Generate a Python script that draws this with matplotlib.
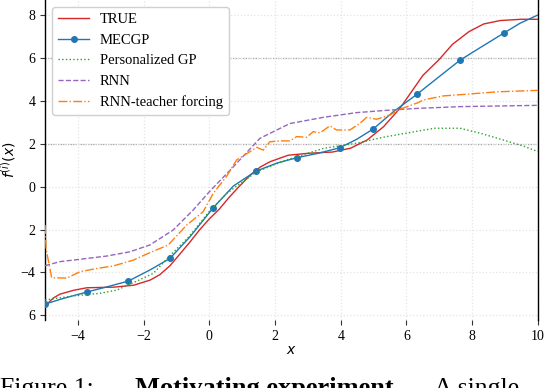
import matplotlib.pyplot as plt

# values
true_x = [-5, -4.75, -4.55, -4.14, -3.73, -2.9, -2.3, -1.8, -1.5, -1.2, -0.9, -0.6, -0.3, 0.0, 0.3, 0.6,
          0.9, 1.25, 1.55, 1.85, 2.4, 3.0, 3.75, 4.3, 4.8, 5.3, 5.8, 6.1, 6.5, 7.0, 7.4, 7.9, 8.35, 8.85, 9.5, 10]
true_y = [-5.57, -5.2, -5.02, -4.84, -4.72, -4.69, -4.6, -4.36, -4.1, -3.69, -3.15, -2.6, -2.02, -1.5, -1.05, -0.5,
          0.0, 0.55, 0.92, 1.17, 1.47, 1.56, 1.62, 1.8, 2.18, 2.8, 3.66, 4.32, 5.2, 5.95, 6.65, 7.24, 7.6, 7.76, 7.82, 7.82]

mecgp_x = [-5, -4.45, -3.73, -3.1, -2.47, -1.81, -1.2, -0.59, 0.12, 0.73, 1.41, 2.05, 2.68, 3.31, 3.97, 4.48,
           4.99, 5.6, 6.33, 6.97, 7.63, 8.29, 8.97, 9.45, 10]
mecgp_y = [-5.48, -5.22, -4.92, -4.67, -4.41, -3.89, -3.35, -2.34, -0.98, 0.03, 0.72, 1.1, 1.36, 1.56, 1.82, 2.21,
           2.70, 3.5, 4.33, 5.11, 5.91, 6.54, 7.18, 7.63, 8.02]
# indices of the observed points that carry a marker
mecgp_marks = [0, 2, 4, 6, 8, 10, 12, 14, 16, 18, 20, 22]

gp_x = [-5, -4.14, -3.33, -2.82, -2.21, -1.71, -1.25, -0.6, 0.0, 0.53, 1.44, 2.35, 3.47, 4.48, 5.29, 6.36,
        6.86, 7.63, 8.24, 8.95, 9.55, 10]
gp_y = [-5.29, -5.1, -4.98, -4.83, -4.41, -4.05, -3.3, -2.3, -1.15, -0.31, 0.70, 1.25, 1.79, 2.03, 2.31, 2.60,
        2.73, 2.73, 2.50, 2.18, 1.90, 1.64]

rnn_x = [-5, -4.55, -3.94, -3.13, -2.42, -1.81, -1.1, -0.5, 0.02, 0.73, 1.54, 2.45, 3.47, 4.48, 5.5, 6.36,
         7.63, 10]
rnn_y = [-3.69, -3.5, -3.39, -3.24, -3.04, -2.72, -2.02, -1.1, -0.2, 0.93, 2.26, 2.95, 3.24, 3.46, 3.58, 3.66,
         3.74, 3.80]

rnn_tf_x = [-5, -4.97, -4.8, -4.34, -3.94, -3.43, -2.92, -2.32, -1.81, -1.25, -0.69, -0.19, 0.12, 0.53, 0.83,
            1.24, 1.44, 1.64, 1.84, 2.15, 2.45, 2.66, 2.96, 3.16, 3.37, 3.67, 3.87, 4.28, 4.58, 4.79, 5.09,
            5.5, 5.8, 6.36, 6.51, 7.12, 7.83, 8.74, 10]
rnn_tf_y = [-1.79, -2.9, -4.25, -4.27, -3.97, -3.82, -3.7, -3.43, -3.08, -2.72, -1.79, -1.17, -0.31, 0.5, 1.25,
            1.64, 1.84, 1.71, 2.10, 2.14, 2.14, 2.34, 2.31, 2.57, 2.52, 2.84, 2.65, 2.65, 2.96, 3.24, 3.15,
            3.35, 3.62, 3.93, 4.05, 4.24, 4.32, 4.43, 4.50]

x_ticks = [-4, -2, 0, 2, 4, 6, 8, 10]
x_tick_labels = ['\u22124', '\u22122', '0', '2', '4', '6', '8', '10']
y_ticks = [8, 6, 4, 2, 0, -2, -4, -6]
y_tick_labels = ['8', '6', '4', '2', '0', '2', '\u22124', '6']

plt.rcParams['font.family'] = ['Liberation Serif', 'DejaVu Serif']
plt.rcParams['mathtext.fontset'] = 'dejavusans'

fig = plt.figure(figsize=(5.5, 3.88), dpi=100)
ax = fig.add_axes([0.082, 0.175, 0.896, 0.825])

# light dotted grid, with the two darker lines the reference shows
ax.grid(True, color='#e4e4e4', linestyle=':', linewidth=0.9)
for yy in [6, 2]:
    ax.axhline(yy, color='#a8a8a8', linestyle=(0, (1.2, 0.8)), linewidth=0.9, zorder=1)

ax.plot(true_x, true_y, color='#d62728', linewidth=1.0, label='TRUE', zorder=3)
ax.plot(mecgp_x, mecgp_y, color='#1f77b4', linewidth=1.0, marker='o', markersize=4,
        markevery=mecgp_marks, label='MECGP', zorder=3)
ax.plot(gp_x, gp_y, color='#2ca02c', linewidth=1.0, linestyle=':', label='Personalized GP', zorder=3)
ax.plot(rnn_x, rnn_y, color='#9467bd', linewidth=1.0, linestyle='--', label='RNN', zorder=3)
ax.plot(rnn_tf_x, rnn_tf_y, color='#ff7f0e', linewidth=1.0, linestyle='-.', label='RNN-teacher forcing', zorder=3)

ax.set_xlim(-5, 10)
ax.set_ylim(-6.23, 8.72)
ax.set_xticks(x_ticks)
ax.set_xticklabels(x_tick_labels)
ax.set_yticks(y_ticks)
ax.set_yticklabels(y_tick_labels)
ax.tick_params(labelsize=10, length=3.5, width=0.8, color='#333333')

ax.spines['top'].set_visible(False)
ax.spines['bottom'].set_visible(False)
for side in ['left', 'right']:
    ax.spines[side].set_color('black')
    ax.spines[side].set_linewidth(1.0)

ax.set_xlabel('$x$', fontsize=10, labelpad=1)
ax.set_ylabel('$f^{(i)}(x)$', fontsize=10, labelpad=2)

ax.legend(loc='upper left', fontsize=10.5, handlelength=2.1, labelspacing=0.5, handletextpad=0.75,
          framealpha=1.0, edgecolor='#d0d0d0', fancybox=True, borderaxespad=0.5)

# caption under the chart, cut by the bottom edge as in the reference
cap_y = -0.018
fig.text(0.0, cap_y, 'Figure 1:', fontsize=18.5, va='baseline', ha='left')
fig.text(0.245, cap_y, 'Motivating experiment.', fontsize=19, fontweight='bold', va='baseline', ha='left')
fig.text(0.79, cap_y, 'A single', fontsize=18.5, va='baseline', ha='left')

fig.savefig('out.png', dpi=100)
